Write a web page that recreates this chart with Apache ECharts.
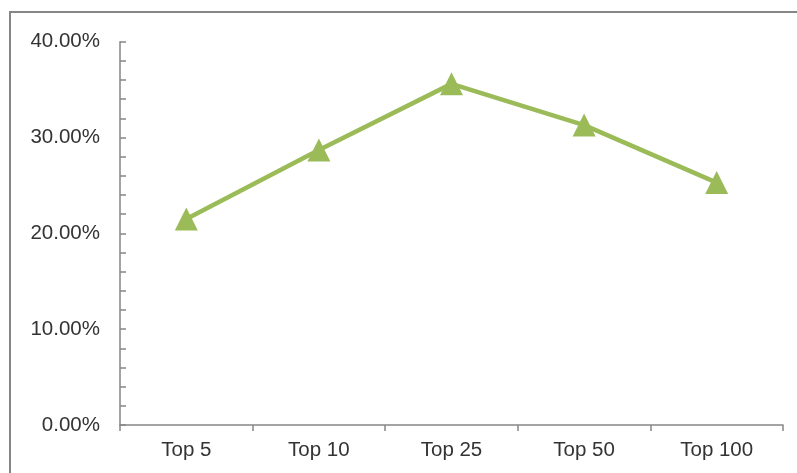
<!DOCTYPE html>
<html>
<head>
<meta charset="utf-8">
<script src="https://cdn.jsdelivr.net/npm/echarts@6/dist/echarts.min.js"></script>
<style>html,body{margin:0;padding:0;background:#fff;}#c{width:797px;height:473px;}</style>
</head>
<body>
<div id="c"></div>
<script>
const categories = ['Top 5', 'Top 10', 'Top 25', 'Top 50', 'Top 100'];
const values = [0.215, 0.287, 0.356, 0.313, 0.253];
const yTicks = [0, 0.1, 0.2, 0.3, 0.4];

const chart = echarts.init(document.getElementById('c'), null, {renderer: 'canvas'});
chart.setOption({
  animation: false,
  backgroundColor: '#fff',
  graphic: [{
    type: 'rect',
    shape: {x: 10, y: 12, width: 820, height: 500},
    style: {fill: 'none', stroke: '#868686', lineWidth: 2}
  }],
  grid: {left: 120, right: 14, top: 41.7, bottom: 48, containLabel: false},
  xAxis: {
    type: 'category',
    data: categories,
    boundaryGap: true,
    axisLine: {lineStyle: {color: '#868686', width: 1.5}},
    axisTick: {show: true, alignWithLabel: false, length: 6, lineStyle: {color: '#868686', width: 1.5}},
    axisLabel: {color: '#333333', fontSize: 20.5, fontFamily: 'Liberation Sans, Arial, sans-serif', margin: 15},
    splitLine: {show: false}
  },
  yAxis: {
    type: 'value',
    min: yTicks[0],
    max: yTicks[yTicks.length - 1],
    interval: 0.1,
    axisLine: {show: true, lineStyle: {color: '#868686', width: 1.5}},
    axisTick: {show: true, inside: true, length: 6, lineStyle: {color: '#868686', width: 1.5}},
    minorTick: {show: true, splitNumber: 5, length: 6, lineStyle: {color: '#868686', width: 1.5}},
    axisLabel: {
      color: '#333333', fontSize: 20.5, fontFamily: 'Liberation Sans, Arial, sans-serif', margin: 20,
      formatter: v => (v * 100).toFixed(2) + '%'
    },
    splitLine: {show: false},
    minorSplitLine: {show: false}
  },
  series: [{
    type: 'line',
    data: values,
    symbol: 'triangle',
    symbolSize: [23, 23],
    itemStyle: {color: '#9BBB59'},
    lineStyle: {color: '#9BBB59', width: 4.5},
    z: 3
  }]
});
</script>
</body>
</html>
